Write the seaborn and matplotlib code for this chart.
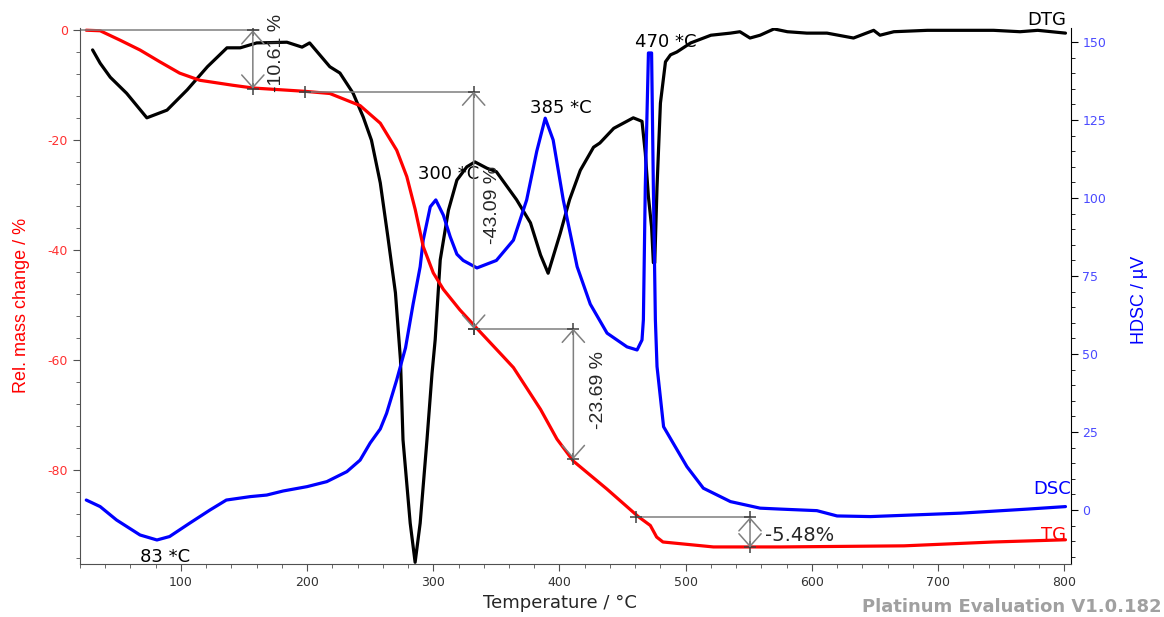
import numpy as np
import pandas as pd
import matplotlib
matplotlib.use("Agg")
import matplotlib.pyplot as plt
from matplotlib.ticker import MultipleLocator
import seaborn as sns

# TG curve: temperature (°C) vs relative mass change (%)
tg_temp = [25, 36, 51.7, 67.6, 83, 99, 115, 141, 157, 198, 218, 242, 258, 271, 279,
           285.7, 292, 300, 308, 321, 334.6, 355, 363.5, 385, 398, 411, 437.7, 462.5,
           472, 477, 482, 522, 575, 673, 744, 801]
tg_mass = [0, -0.1, -1.8, -3.6, -5.7, -7.8, -9.1, -10.0, -10.5, -11.1, -11.5, -13.7,
           -16.9, -21.8, -26.6, -32.6, -39.3, -44.1, -47.1, -50.8, -54.2, -59.2, -61.3,
           -68.9, -74.3, -78.3, -83.4, -88.4, -90.0, -92.1, -93.0, -93.9, -93.9, -93.7,
           -93.0, -92.6]

# DSC curve: temperature vs heat flow signal (µV)
dsc_temp = [25, 36, 49, 67.6, 81, 91, 107, 123, 136, 155, 168, 181, 200, 215.6, 231.5,
            242, 250, 258, 263, 271, 278, 284, 289.6, 292, 297.6, 302, 308, 313.4,
            318.7, 323.7, 334.6, 350, 363.5, 374, 382, 388.7, 395, 403, 414, 424.4,
            437.7, 453.5, 461.5, 465.4, 466.5, 468, 470.5, 473, 474.4, 476, 477.3,
            482.5, 490, 501, 514, 535.5, 559, 575, 604, 620, 646.5, 718, 771, 801]
dsc_signal = [3.2, 1.1, -3.2, -8.0, -9.6, -8.5, -4.2, 0, 3.2, 4.3, 4.8, 6.1, 7.5, 9.1,
              12.3, 16, 21.5, 26, 31, 41.7, 52, 66, 78, 86.5, 97.2, 99.4, 94.5, 87.6,
              82, 80, 77.6, 80, 86.5, 99.4, 115, 125.6, 118.6, 99.4, 78, 66, 56.7, 52.3,
              51.3, 54.5, 61, 103.5, 146.5, 146.5, 103.5, 61, 46, 26.7, 21.5, 13.9, 7,
              2.7, 0.6, 0.3, -0.2, -1.9, -2.1, -1.0, 0.3, 1.1]

# DTG curve: temperature vs mass loss rate (%/min), own hidden scale
dtg_temp = [30, 36, 44, 57, 73, 89, 105, 121, 136.5, 147, 160, 184, 196, 202, 218, 226,
            236.5, 244.5, 251, 258, 264, 270, 274, 276, 281.7, 285.6, 289.6, 295, 299,
            301.5, 305.5, 312, 318.7, 326.6, 333, 342.5, 350, 366, 377, 385, 391,
            400.6, 408, 416.5, 427, 432, 443, 458.5, 465.4, 468, 470.5, 473, 474.4,
            475.5, 477.3, 480, 484, 488, 493, 504, 520, 535.5, 543, 551, 559, 570,
            580.6, 596, 612, 633, 649, 654, 665, 691.6, 718, 744, 765, 779, 801]
dtg_rate = [-0.27, -0.46, -0.66, -0.89, -1.24, -1.13, -0.84, -0.51, -0.24, -0.24, -0.17,
            -0.16, -0.23, -0.17, -0.51, -0.60, -0.89, -1.23, -1.56, -2.17, -2.94, -3.74,
            -4.70, -5.84, -7.03, -7.59, -7.03, -5.84, -4.89, -4.41, -3.27, -2.56, -2.13,
            -1.94, -1.87, -1.96, -2.01, -2.41, -2.74, -3.2, -3.46, -2.89, -2.41, -1.99,
            -1.66, -1.60, -1.39, -1.24, -1.29, -1.74, -2.37, -2.80, -3.31, -3.31, -2.23,
            -1.03, -0.44, -0.34, -0.30, -0.17, -0.06, -0.03, -0.01, -0.10, -0.06, 0.03,
            -0.01, -0.03, -0.03, -0.10, 0.01, -0.06, -0.01, 0.01, 0.01, 0.01, -0.01,
            0.01, -0.03]

# mass loss steps: (temperature of arrow, upper level, lower level, start of baseline)
step_temp = [157, 332, 411, 551]
step_top = [0, -11.15, -54.24, -88.5]
step_bottom = [-10.61, -54.24, -77.93, -93.98]
step_line_start = [20, 198, 332, 461]
step_labels = ["-10.61 %", "-43.09 %", "-23.69 %", "-5.48%"]

peak_labels = ["83 *C", "300 *C", "385 *C", "470 *C"]
peak_temp = [67.6, 288, 377, 460]
peak_level = [-15, 107.7, 128.8, 150]

tg = pd.DataFrame({"T": tg_temp, "v": tg_mass})
dsc = pd.DataFrame({"T": dsc_temp, "v": dsc_signal})
dtg = pd.DataFrame({"T": dtg_temp, "v": dtg_rate})

sns.set_style("white")
plt.rcParams["font.family"] = ["DejaVu Sans"]
plt.rcParams["axes.unicode_minus"] = False

fig = plt.figure(figsize=(11.64, 6.17), dpi=100)
ax = fig.add_axes([0.0687, 0.0859, 0.851, 0.8687])
ax2 = ax.twinx()
ax3 = ax.twinx()

grey = "#7f7f7f"
lw = 2.3

sns.lineplot(data=dtg, x="T", y="v", ax=ax3, color="black", lw=lw, estimator=None, sort=False)
sns.lineplot(data=dsc, x="T", y="v", ax=ax2, color="#0000ff", lw=lw, estimator=None, sort=False)
sns.lineplot(data=tg, x="T", y="v", ax=ax, color="#ff0000", lw=lw, estimator=None, sort=False)

# put TG on top of the others
ax.set_zorder(3)
ax.patch.set_visible(False)
ax2.set_zorder(2)
ax3.set_zorder(1)

ax.set_xlim(20, 805)
ax.set_ylim(-97, 0.4)
ax2.set_ylim(-17.3, 154.5)
ax3.set_ylim(-7.614, 0.043)

# step annotations
for t, top, bot, x0, lab in zip(step_temp, step_top, step_bottom, step_line_start, step_labels):
    x_end = t + 5 if x0 == 20 else t
    ax.plot([x0, x_end], [top, top], color=grey, lw=1.1)
    ax.annotate("", xy=(t, bot), xytext=(t, top),
                arrowprops=dict(arrowstyle="<->,head_length=0.45,head_width=0.4",
                                color=grey, lw=1.1, shrinkA=0, shrinkB=0,
                                mutation_scale=20))
    ax.plot([t, t], [top, bot], ls="none", marker="+", ms=9, mew=1.1, color="#404040")
    if x0 != 20:
        ax.plot([x0], [top], ls="none", marker="+", ms=9, mew=1.1, color="#404040")

ax.text(176, -4.2, step_labels[0], rotation=90, ha="center", va="center", fontsize=14,
        family="Liberation Sans")
ax.text(346.7, -31.7, step_labels[1], rotation=90, ha="center", va="center", fontsize=14,
        family="Liberation Sans")
ax.text(430.8, -65.3, step_labels[2], rotation=90, ha="center", va="center", fontsize=14,
        family="Liberation Sans")
ax.text(563, -91.9, step_labels[3], ha="left", va="center", fontsize=14)

for lab, t, v in zip(peak_labels, peak_temp, peak_level):
    ax2.text(t, v, lab, ha="left", va="center", fontsize=13, color="black", zorder=5)

# axes styling
for a in (ax, ax2, ax3):
    a.set_xlabel("")
    a.set_ylabel("")
    a.spines["top"].set_visible(False)
ax.spines["right"].set_visible(False)
ax2.spines["left"].set_visible(False)
ax2.spines["bottom"].set_visible(False)
for s in ax3.spines.values():
    s.set_visible(False)
ax3.set_yticks([])

ax.spines["left"].set_color("#505050")
ax.spines["bottom"].set_color("#505050")
ax2.spines["right"].set_color("black")

ax.xaxis.set_major_locator(MultipleLocator(100))
ax.xaxis.set_minor_locator(MultipleLocator(20))
ax.yaxis.set_major_locator(MultipleLocator(20))
ax.yaxis.set_minor_locator(MultipleLocator(4))
ax2.yaxis.set_major_locator(MultipleLocator(25))
ax2.yaxis.set_minor_locator(MultipleLocator(5))
ax.set_xticks(range(100, 900, 100))

ax.tick_params(axis="x", which="major", direction="out", length=5, color="#505050",
               labelsize=9, labelcolor="#333333", bottom=True)
ax.tick_params(axis="x", which="minor", direction="out", length=3, color="#505050", bottom=True)
ax.tick_params(axis="y", which="major", direction="out", length=5, color="#505050",
               labelsize=9, labelcolor="#ff3030", left=True)
ax.tick_params(axis="y", which="minor", direction="out", length=3, color="#505050", left=True)
ax2.tick_params(axis="y", which="major", direction="out", length=5, color="black",
                labelsize=9, labelcolor="#4a4aff", right=True)
ax2.tick_params(axis="y", which="minor", direction="out", length=3, color="black", right=True)
ax2.set_yticks(range(0, 175, 25))

fig.text(0.481, 0.0227, "Temperature / °C", ha="center", va="center", fontsize=13)
fig.text(0.0189, 0.5057, "Rel. mass change / %", rotation=90, ha="center", va="center",
         fontsize=13, color="#ff0000", family="Liberation Sans")
fig.text(0.979, 0.514, "HDSC / µV", rotation=90, ha="center", va="center",
         fontsize=13, color="#0000ff", family="Liberation Sans")

fig.text(0.9158, 0.9676, "DTG", ha="right", va="center", fontsize=13, color="black")
fig.text(0.9201, 0.2075, "DSC", ha="right", va="center", fontsize=13, color="#0000ff")
fig.text(0.9158, 0.1329, "TG", ha="right", va="center", fontsize=13, color="#ff0000")
fig.text(0.998, 0.016, "Platinum Evaluation V1.0.182", ha="right", va="center",
         fontsize=13, fontweight="bold", color="#a0a0a0")

fig.savefig("out.png", dpi=100)
